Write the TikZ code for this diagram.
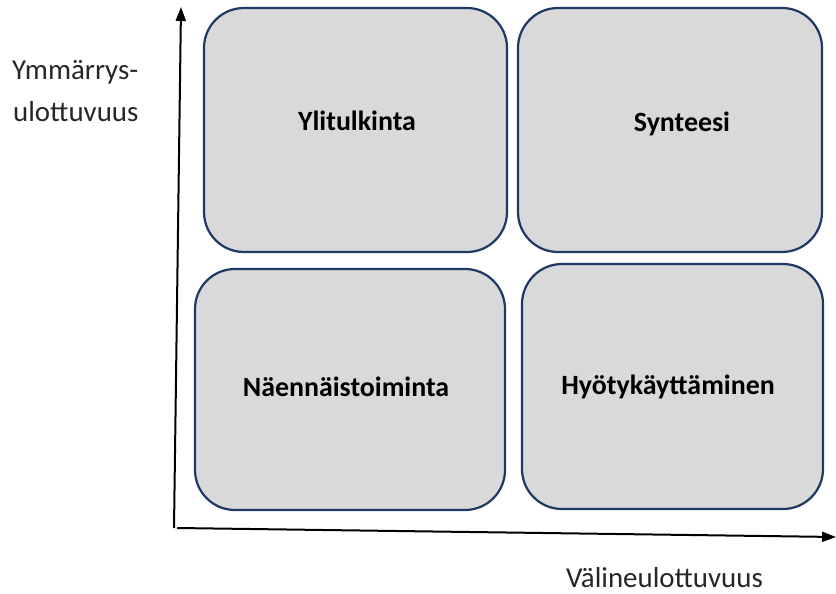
\documentclass[tikz,border=0pt]{standalone}
\usepackage{fontspec}
\setmainfont{Carlito}
\usetikzlibrary{arrows.meta}
\definecolor{boxfill}{HTML}{D9D9D9}
\definecolor{boxline}{HTML}{203864}
\begin{document}
\begin{tikzpicture}[x=1bp,y=-1bp,
  quad/.style={draw=boxline, line width=2.2bp, fill=boxfill, rounded corners=40bp},
  qlabel/.style={font=\fontsize{28}{32}\selectfont\bfseries, text=black},
  axlabel/.style={font=\fontsize{29}{34}\selectfont, text=black!85, anchor=base west, inner sep=0pt},
  axis/.style={line width=2bp, -{Triangle[length=14bp,width=10bp]}}]
\useasboundingbox (0,0) rectangle (836,594);
% four quadrants
\draw[quad] (204,8) rectangle (507,252);
\draw[quad] (518,8) rectangle (822,252);
\draw[quad] (195,269) rectangle (505,510);
\draw[quad] (522,264) rectangle (823,509);
\node[qlabel] (yli) at (357,121) {Ylitulkinta};
\node[qlabel] (syn) at (682,124) {Synteesi};
\node[qlabel] (nae) at (346,387) {Näennäistoiminta};
\node[qlabel] (hyo) at (668,387) {Hyötykäyttäminen};
% axes
\coordinate (origin) at (174,528);
\coordinate (ytop) at (181,7);
\coordinate (xstart) at (177,528);
\coordinate (xend) at (836,537);
\draw[axis] (origin) -- (ytop);
\draw[axis] (xstart) -- (xend);
\node[axlabel] (ylab1) at (12,80) {Ymmärrys-};
\node[axlabel] (ylab2) at (13,122) {ulottuvuus};
\node[axlabel] (xlab) at (566,587) {Välineulottuvuus};
\end{tikzpicture}
\end{document}
